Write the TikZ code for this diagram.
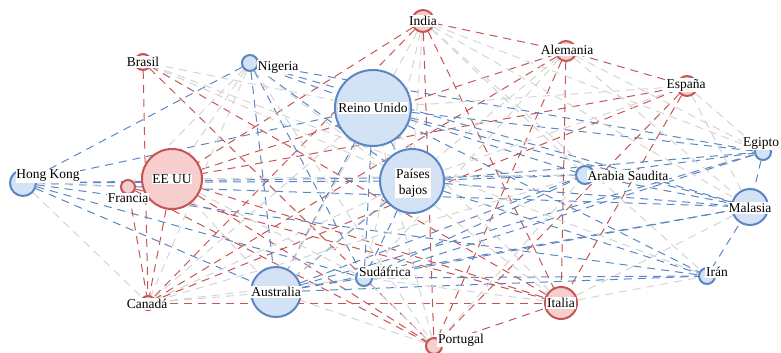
\documentclass[tikz,border=0pt]{standalone}
\usepackage{fontspec}
\setmainfont{Liberation Serif}
\pgfdeclarelayer{edgelayer}
\pgfdeclarelayer{textlayer}
\pgfsetlayers{edgelayer,main,textlayer}
\definecolor{rline}{RGB}{198,84,82}
\definecolor{bline}{RGB}{90,134,194}
\definecolor{gline}{RGB}{212,212,212}
\definecolor{rfill}{RGB}{246,206,206}
\definecolor{bfill}{RGB}{212,226,246}
\tikzset{
  country/.style={circle, inner sep=0pt, line width=2pt, minimum size=#1},
  rnode/.style={country=#1, draw=rline, fill=rfill},
  bnode/.style={country=#1, draw=bline, fill=bfill},
  lab/.style={fill=white, inner sep=0.8pt, font=\fontsize{13.5}{16}\selectfont, align=center},
  link/.style={line width=1pt, dash pattern=on 8pt off 6pt},
  redge/.style={link, draw=rline},
  bedge/.style={link, draw=bline},
  gedge/.style={link, draw=gline},
}
\begin{document}
\begin{tikzpicture}[x=1pt, y=-1pt]
\useasboundingbox (0,0) rectangle (781,353);

% countries (diameter = 2 x radius in px)
\node[rnode=22pt] (IN) at (423,21) {};
\node[rnode=20pt] (AL) at (566,51) {};
\node[rnode=20pt] (ES) at (687,86) {};
\node[bnode=16pt] (EG) at (763,152) {};
\node[rnode=16pt] (BR) at (143,62) {};
\node[bnode=16pt] (NG) at (250,63) {};
\node[bnode=76pt] (UK) at (373,108) {};
\node[bnode=64pt] (NL) at (412,181) {};
\node[rnode=60pt] (US) at (172,179) {};
\node[bnode=26pt] (HK) at (23,183) {};
\node[rnode=14pt] (FR) at (128,187) {};
\node[rnode=14pt] (CA) at (148,303) {};
\node[bnode=50pt] (AU) at (276,292) {};
\node[bnode=16pt] (ZA) at (364,278) {};
\node[rnode=16pt] (PT) at (434,346) {};
\node[rnode=32pt] (IT) at (561,303) {};
\node[bnode=16pt] (IR) at (707,276) {};
\node[bnode=36pt] (MY) at (750,207) {};
\node[bnode=18pt] (SA) at (585,175) {};

\begin{pgfonlayer}{edgelayer}
% links between two red countries
\foreach \a/\b in {IN/AL, AL/ES, IN/US, IN/PT, IN/IT, AL/IT, AL/CA, ES/US, ES/CA,
  ES/IT, ES/PT, BR/CA, BR/IT, BR/PT, US/CA, FR/CA, US/IT, US/PT, CA/IT, PT/IT,
  FR/IT, AL/PT, IN/CA, FR/PT, AL/US}
  \draw[redge] (\a) -- (\b);
% links between two blue countries
\foreach \a/\b in {NG/HK, NG/UK, NG/AU, NG/ZA, NG/NL, NG/MY, NG/EG,
  HK/UK, HK/NL, HK/AU, HK/ZA, HK/IR, HK/MY, HK/SA,
  UK/EG, UK/MY, UK/IR, UK/SA, UK/AU, UK/ZA, UK/NL,
  NL/EG, NL/MY, NL/IR, NL/SA, NL/AU, NL/ZA,
  AU/ZA, AU/IR, AU/MY, AU/EG, AU/SA,
  ZA/IR, ZA/MY, ZA/SA, ZA/EG, IR/MY, SA/MY, SA/EG, EG/MY}
  \draw[bedge] (\a) -- (\b);
% links between a red and a blue country
\foreach \a/\b in {BR/NL, BR/IR, BR/UK,
  NG/US, NG/CA, NG/IT, NG/PT, NG/FR,
  IN/SA, IN/MY, IN/IR, IN/EG, IN/ZA, IN/AU, IN/NL,
  AL/EG, AL/MY, AL/ZA, AL/AU,
  ES/UK, ES/EG, ES/MY, ES/NL,
  HK/CA, HK/FR,
  CA/AU, CA/ZA, CA/NL, CA/UK, CA/SA,
  US/ZA, US/SA, US/AU,
  IT/MY, IT/IR, IT/ZA, IT/UK,
  PT/AU, PT/ZA, PT/SA, PT/UK}
  \draw[gedge] (\a) -- (\b);
\end{pgfonlayer}

\begin{pgfonlayer}{textlayer}
\node[lab] at (423,21) {India};
\node[lab] at (567,50) {Alemania};
\node[lab] at (686,85) {España};
\node[lab] at (761,143) {Egipto};
\node[lab] at (143,62) {Brasil};
\node[lab] at (278,67) {Nigeria};
\node[lab] at (373,108) {Reino Unido};
\node[lab] at (413,183) {Países\\bajos};
\node[lab] at (172,179) {EE UU};
\node[lab] at (48,176) {Hong Kong};
\node[lab] at (128,198) {Francia};
\node[lab] at (147,304) {Canadá};
\node[lab] at (276,292) {Australia};
\node[lab] at (385,272) {Sudáfrica};
\node[lab] at (461,340) {Portugal};
\node[lab] at (561,303) {Italia};
\node[lab] at (717,272) {Irán};
\node[lab] at (750,208) {Malasia};
\node[lab] at (628,176) {Arabia Saudita};
\end{pgfonlayer}
\end{tikzpicture}
\end{document}
